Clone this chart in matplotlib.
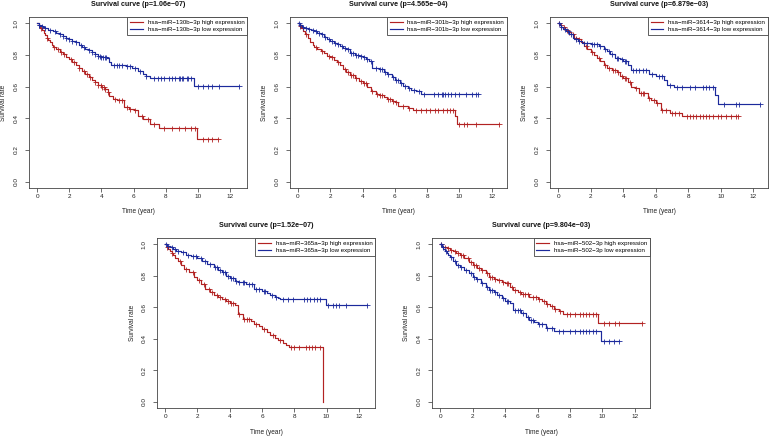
import numpy as np
import matplotlib
matplotlib.use("Agg")
import matplotlib.pyplot as plt

plt.rcParams['font.family'] = ['Liberation Sans', 'DejaVu Sans']

RED = '#B22222'
BLUE = '#1C2A9C'

# ---------------- data ----------------
mirnas = ["hsa\u2212miR\u2212130b\u22123p", "hsa\u2212miR\u2212301b\u22123p", "hsa\u2212miR\u22123614\u22123p",
          "hsa\u2212miR\u2212365a\u22123p", "hsa\u2212miR\u2212502\u22123p"]
pvalues = ["1.06e\u221207", "4.565e\u221204", "6.879e\u221203", "1.52e\u221207", "9.804e\u221203"]

# panel 1: hsa-miR-130b-3p
p1_high_t = [0.1,0.2,0.3,0.4,0.5,0.6,0.7,0.8,0.9,1.0,1.2,1.4,1.6,1.8,2.0,2.2,2.4,2.6,2.8,3.0,3.2,3.4,3.6,3.8,4.0,4.2,4.4,4.5,4.7,5.0,5.4,5.7,6.0,6.3,6.6,7.0,7.6,9.95]
p1_high_s = [0.985,0.97,0.955,0.94,0.925,0.91,0.895,0.88,0.865,0.852,0.835,0.82,0.805,0.79,0.776,0.755,0.735,0.715,0.696,0.677,0.66,0.645,0.628,0.613,0.598,0.585,0.565,0.54,0.525,0.515,0.47,0.46,0.45,0.415,0.395,0.365,0.338,0.27]
p1_high_end = 11.25
p1_high_c = [0.25,0.6,1.05,1.3,1.5,1.7,2.1,2.3,2.6,2.9,3.1,3.3,3.6,3.8,3.95,4.05,4.15,4.25,4.4,4.85,5.1,5.3,5.6,5.8,6.1,6.5,6.9,7.3,7.9,8.4,8.8,9.2,9.6,9.8,10.3,10.6,10.9,11.25]
p1_low_t = [0.1,0.2,0.35,0.5,0.7,0.9,1.0,1.2,1.4,1.6,1.8,2.0,2.2,2.4,2.6,2.8,3.0,3.2,3.4,3.6,3.8,4.0,4.35,4.5,4.6,5.5,5.9,6.3,6.6,6.8,7.0,9.77]
p1_low_s = [0.99,0.985,0.975,0.97,0.96,0.958,0.952,0.94,0.93,0.92,0.91,0.899,0.89,0.88,0.865,0.852,0.84,0.83,0.818,0.808,0.795,0.787,0.78,0.755,0.74,0.73,0.715,0.698,0.68,0.67,0.655,0.606]
p1_low_end = 12.55
p1_low_c = [0.1,0.15,0.3,0.5,0.8,1.1,1.4,1.6,1.8,2.0,2.2,2.4,2.7,2.9,3.2,3.4,3.6,3.8,3.9,4.0,4.1,4.2,4.3,4.8,5.0,5.1,5.3,5.6,5.8,6.1,6.4,6.8,7.3,7.5,7.7,7.9,8.2,8.4,8.6,8.8,8.9,9.0,9.1,9.3,9.4,9.6,10.0,10.3,10.6,10.9,11.3,12.55]

# panel 2: hsa-miR-301b-3p
p2_high_t = [0.1,0.2,0.3,0.45,0.6,0.75,0.9,1.0,1.2,1.4,1.6,1.8,2.0,2.2,2.4,2.6,2.8,3.0,3.2,3.5,3.8,4.0,4.3,4.5,4.8,5.0,5.3,5.5,5.8,6.0,6.2,6.8,7.1,9.73,9.87]
p2_high_s = [0.985,0.97,0.95,0.93,0.905,0.885,0.865,0.852,0.84,0.825,0.81,0.795,0.785,0.77,0.755,0.735,0.71,0.69,0.675,0.655,0.635,0.62,0.6,0.57,0.555,0.548,0.535,0.522,0.51,0.5,0.48,0.465,0.452,0.417,0.364]
p2_high_end = 12.45
p2_high_c = [0.15,0.5,1.1,1.5,1.9,2.1,2.5,2.9,3.1,3.3,3.4,3.6,3.9,4.1,4.2,4.6,4.9,5.1,5.2,5.6,5.7,5.9,6.1,6.5,6.9,7.3,7.6,7.9,8.2,8.5,8.7,9.0,9.2,9.4,9.6,10.0,10.3,10.5,11.0,12.45]
p2_low_t = [0.1,0.25,0.4,0.6,0.8,1.0,1.2,1.4,1.6,1.8,2.0,2.2,2.4,2.6,2.8,3.0,3.2,3.5,3.8,4.0,4.2,4.4,4.6,5.0,5.3,5.5,5.8,6.0,6.3,6.5,6.8,7.0,7.3,7.64]
p2_low_s = [0.99,0.98,0.97,0.965,0.958,0.951,0.94,0.93,0.915,0.9,0.888,0.878,0.868,0.858,0.845,0.835,0.81,0.8,0.792,0.785,0.775,0.762,0.72,0.71,0.695,0.677,0.66,0.645,0.625,0.607,0.59,0.58,0.57,0.556]
p2_low_end = 11.16
p2_low_c = [0.05,0.15,0.3,0.5,0.7,0.9,1.1,1.3,1.5,1.7,1.9,2.1,2.3,2.5,2.7,2.9,3.1,3.3,3.4,3.6,3.7,3.9,4.1,4.3,4.5,4.8,5.1,5.2,5.4,5.6,5.9,6.1,6.2,6.4,6.6,6.9,7.2,7.5,7.8,8.4,8.7,8.9,9.0,9.1,9.3,9.5,9.7,10.0,10.4,10.8,11.0,11.16]

# panel 3: hsa-miR-3614-3p
p3_high_t = [0.1,0.2,0.3,0.4,0.5,0.6,0.8,1.0,1.2,1.4,1.6,1.8,2.0,2.2,2.4,2.6,2.8,3.0,3.3,3.6,3.8,4.0,4.3,4.5,4.7,5.0,5.5,5.7,6.0,6.3,6.9,7.6]
p3_high_s = [0.99,0.98,0.975,0.965,0.958,0.945,0.93,0.91,0.9,0.885,0.86,0.835,0.82,0.8,0.78,0.76,0.74,0.72,0.705,0.69,0.67,0.655,0.63,0.6,0.59,0.56,0.53,0.515,0.497,0.455,0.433,0.412]
p3_high_end = 11.08
p3_high_c = [0.05,0.15,0.35,0.55,0.7,0.9,1.1,1.3,1.7,2.1,2.5,2.9,3.1,3.4,3.5,3.7,3.9,4.1,4.2,4.4,4.8,5.1,5.2,5.3,5.6,5.9,6.1,6.4,6.6,7.0,7.2,7.4,7.9,8.1,8.3,8.5,8.7,8.9,9.1,9.3,9.5,9.8,10.0,10.3,10.6,10.9,11.08]
p3_low_t = [0.1,0.2,0.3,0.5,0.7,0.9,1.0,1.2,1.5,2.0,2.5,2.8,3.0,3.2,3.5,3.8,4.0,4.3,4.5,5.6,6.0,6.5,6.7,7.1,9.66,9.82]
p3_low_s = [0.99,0.975,0.965,0.951,0.93,0.91,0.9,0.888,0.873,0.867,0.856,0.84,0.825,0.805,0.782,0.772,0.76,0.735,0.708,0.677,0.67,0.645,0.613,0.598,0.55,0.491]
p3_low_end = 12.4
p3_low_c = [0.05,0.2,0.4,0.6,0.8,1.1,1.3,1.6,1.8,2.1,2.2,2.4,2.6,2.9,3.1,3.3,3.6,3.7,3.9,4.1,4.2,4.6,4.8,5.0,5.2,5.4,5.8,6.2,6.4,6.9,7.3,7.6,8.1,8.4,8.9,9.1,9.3,9.5,10.2,10.9,11.1,12.4]

# panel 4: hsa-miR-365a-3p
p4_high_t = [0.1,0.2,0.3,0.4,0.5,0.6,0.8,1.0,1.2,1.5,1.8,2.0,2.2,2.5,2.8,3.0,3.3,3.5,3.8,4.0,4.3,4.5,4.8,5.3,5.5,5.8,6.0,6.3,6.5,6.8,7.0,7.3,7.5,7.7,9.79]
p4_high_s = [0.985,0.97,0.955,0.945,0.93,0.915,0.895,0.868,0.845,0.821,0.795,0.772,0.75,0.719,0.695,0.677,0.665,0.655,0.64,0.63,0.617,0.56,0.528,0.51,0.496,0.48,0.464,0.44,0.421,0.405,0.389,0.375,0.362,0.347,0.0]
p4_high_end = 9.79
p4_high_c = [0.15,0.45,0.9,1.3,1.7,2.1,2.4,2.7,2.9,3.2,3.4,3.7,3.9,4.1,4.2,4.6,4.9,5.1,5.2,5.6,6.1,6.7,7.1,7.8,8.0,8.3,8.7,8.9,9.1,9.3,9.6]
p4_low_t = [0.1,0.3,0.5,0.7,1.0,1.3,1.6,2.0,2.3,2.6,3.0,3.3,3.5,3.8,4.0,4.3,4.5,5.0,5.5,6.0,6.3,6.5,6.8,7.0,7.1,9.99]
p4_low_s = [0.99,0.98,0.972,0.96,0.949,0.935,0.925,0.911,0.895,0.877,0.857,0.835,0.821,0.8,0.783,0.77,0.762,0.745,0.715,0.702,0.69,0.677,0.668,0.662,0.655,0.617]
p4_low_end = 12.5
p4_low_c = [0.05,0.2,0.4,0.6,0.8,1.1,1.4,1.7,1.9,2.2,2.5,2.8,3.1,3.2,3.4,3.6,3.7,3.9,4.1,4.2,4.4,4.6,4.8,4.9,5.2,5.4,5.6,5.8,6.1,6.2,6.6,6.9,7.3,7.6,7.9,8.6,8.8,9.0,9.2,9.4,9.6,10.1,10.4,10.6,10.8,11.2,12.5]

# panel 5: hsa-miR-502-3p
p5_high_t = [0.1,0.2,0.4,0.6,0.8,1.0,1.2,1.5,1.8,2.0,2.3,2.5,2.8,3.0,3.3,3.5,3.8,4.0,4.3,4.5,4.8,5.0,5.5,6.0,6.3,6.5,6.8,7.0,7.3,7.6,9.73]
p5_high_s = [0.99,0.982,0.975,0.965,0.955,0.943,0.93,0.911,0.885,0.868,0.85,0.836,0.815,0.794,0.78,0.772,0.76,0.751,0.73,0.709,0.695,0.687,0.666,0.655,0.64,0.623,0.605,0.591,0.578,0.555,0.5]
p5_high_end = 12.43
p5_high_c = [0.05,0.3,0.5,0.7,0.9,1.1,1.3,1.4,1.7,1.9,2.1,2.2,2.4,2.6,2.9,3.1,3.2,3.4,3.6,3.9,4.1,4.2,4.4,4.6,4.9,5.1,5.2,5.4,5.7,5.9,6.1,6.4,6.6,6.9,7.1,7.4,7.8,8.0,8.3,8.6,8.8,9.0,9.2,9.4,9.6,10.1,10.4,10.8,11.0,12.43]
p5_low_t = [0.1,0.2,0.3,0.4,0.5,0.6,0.8,1.0,1.2,1.5,1.8,2.0,2.2,2.5,2.8,3.0,3.3,3.5,3.8,4.0,4.3,4.5,5.0,5.3,5.5,5.8,6.0,6.5,7.0,9.89]
p5_low_s = [0.985,0.97,0.955,0.945,0.93,0.92,0.895,0.868,0.855,0.836,0.815,0.794,0.78,0.751,0.73,0.709,0.695,0.681,0.66,0.638,0.63,0.581,0.566,0.538,0.517,0.505,0.496,0.468,0.449,0.385]
p5_low_end = 11.0
p5_low_c = [0.05,0.15,0.35,0.7,0.9,1.1,1.3,1.6,1.9,2.1,2.3,2.6,2.9,3.1,3.2,3.4,3.6,3.9,4.1,4.2,4.6,4.8,4.9,5.1,5.4,5.6,5.7,6.1,6.3,6.6,6.9,7.3,7.6,8.0,8.3,8.6,8.8,9.0,9.2,9.4,9.6,10.1,10.4,10.7,11.0]

panels = [
    (p1_high_t, p1_high_s, p1_high_end, p1_high_c, p1_low_t, p1_low_s, p1_low_end, p1_low_c),
    (p2_high_t, p2_high_s, p2_high_end, p2_high_c, p2_low_t, p2_low_s, p2_low_end, p2_low_c),
    (p3_high_t, p3_high_s, p3_high_end, p3_high_c, p3_low_t, p3_low_s, p3_low_end, p3_low_c),
    (p4_high_t, p4_high_s, p4_high_end, p4_high_c, p4_low_t, p4_low_s, p4_low_end, p4_low_c),
    (p5_high_t, p5_high_s, p5_high_end, p5_high_c, p5_low_t, p5_low_s, p5_low_end, p5_low_c),
]

# ---------------- layout (pixels: left, top, right, bottom) ----------------
W, H = 770, 437
boxes = [(29, 17, 247, 188), (290, 17, 507, 188), (550, 17, 768, 188),
         (157, 238, 375, 408), (432, 238, 650, 408)]

fig = plt.figure(figsize=(W / 100, H / 100), dpi=100)
PX = 0.72  # points per pixel

def km_curve(ax, t, s, end, cens, color):
    tt = np.concatenate([[0.0], np.asarray(t, float), [end]])
    ss = np.concatenate([[1.0], np.asarray(s, float), [np.asarray(s, float)[-1]]])
    ax.step(tt, ss, where='post', color=color, lw=0.85)
    c = np.asarray(cens, float)
    idx = np.searchsorted(np.asarray(t, float), c, side='right')
    cs = np.concatenate([[1.0], np.asarray(s, float)])[idx]
    ax.plot(c, cs, linestyle='none', marker='+', ms=3.6, mew=0.6, color=color)

for i, (box, pdata) in enumerate(zip(boxes, panels)):
    l, t_, r, b = box
    ax = fig.add_axes([l / W, 1 - b / H, (r - l) / W, (b - t_) / H])
    ht, hs, hend, hc, lt, ls, lend, lc = pdata
    km_curve(ax, ht, hs, hend, hc, RED)
    km_curve(ax, lt, ls, lend, lc, BLUE)
    tmax = max(hend, lend)
    ax.set_xlim(-0.04 * tmax, 1.04 * tmax)
    ax.set_ylim(-0.04, 1.04)
    ax.set_xticks(np.arange(0, 13, 2))
    ax.set_yticks(np.arange(0, 1.01, 0.2))
    ax.set_xticklabels([str(v) for v in range(0, 13, 2)])
    ax.set_yticklabels([f"{v:.1f}" for v in np.arange(0, 1.01, 0.2)])
    ax.tick_params(axis='both', labelsize=4.6, length=3, width=0.5, color='#333333', labelcolor='#222222')
    ax.tick_params(axis='x', pad=1.5)
    ax.tick_params(axis='y', pad=4.5, labelrotation=90)
    for lab in ax.get_yticklabels():
        lab.set_va('center')
    for sp in ax.spines.values():
        sp.set_linewidth(0.6)
        sp.set_color('#444444')
    ax.annotate(f"Survival curve (p={pvalues[i]})", xy=(0.5, 1), xycoords='axes fraction',
                xytext=(0, 12 * PX), textcoords='offset points', ha='center', va='center',
                fontsize=5.1, fontweight='bold', color='#111111')
    ax.annotate("Time (year)", xy=(0.5, 0), xycoords='axes fraction',
                xytext=(0, -24 * PX), textcoords='offset points', ha='center', va='center',
                fontsize=4.7, color='#222222')
    ax.annotate("Survival rate", xy=(0, 0.5), xycoords='axes fraction',
                xytext=(-25 * PX, 0), textcoords='offset points', ha='center', va='center',
                rotation=90, fontsize=4.7, color='#222222')
    h1, = ax.plot([], [], color=RED, lw=0.85)
    h2, = ax.plot([], [], color=BLUE, lw=0.85)
    leg = ax.legend([h1, h2], [f"{mirnas[i]} high expression", f"{mirnas[i]} low expression"],
                    loc='upper right', borderaxespad=0, fontsize=4.4, frameon=True, fancybox=False,
                    handlelength=2.1, handletextpad=0.8, borderpad=0.45, labelspacing=0.3,
                    framealpha=1, edgecolor='#444444')
    leg.get_frame().set_linewidth(0.6)

fig.savefig("out.png", dpi=100)
